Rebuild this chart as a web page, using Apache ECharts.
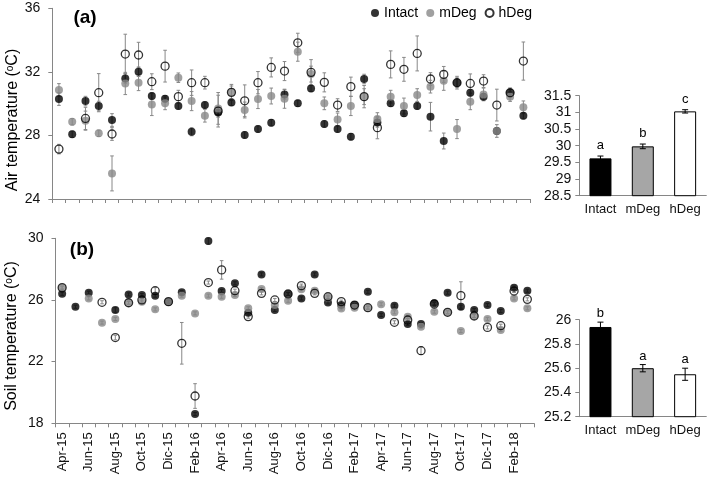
<!DOCTYPE html>
<html><head><meta charset="utf-8">
<script src="https://cdn.jsdelivr.net/npm/echarts@6/dist/echarts.min.js"></script>
<style>html,body{margin:0;padding:0;background:#fff}#c{width:709px;height:478px}</style>
</head><body><div id="c"></div>
<script>
const months = ['Apr-15','May-15','Jun-15','Jul-15','Aug-15','Sep-15','Oct-15','Nov-15','Dic-15','Jan-16','Feb-16','Mar-16','Apr-16','May-16','Jun-16','Jul-16','Aug-16','Sep-16','Oct-16','Nov-16','Dic-16','Jan-17','Feb-17','Mar-17','Apr-17','May-17','Jun-17','Jul-17','Aug-17','Sep-17','Oct-17','Nov-17','Dic-17','Jan-18','Feb-18','Mar-18'];
const groups = ['Intact','mDeg','hDeg'];

const airIntact = [30.29,28.07,30.16,29.85,28.97,31.59,32.01,30.48,30.31,29.85,28.23,29.91,29.45,30.08,28.03,28.40,28.80,30.58,30.02,30.96,28.72,28.40,27.92,31.55,28.82,30.02,29.39,29.85,29.18,27.65,31.32,30.69,30.44,28.28,30.69,29.24];
const airMDeg   = [30.86,28.86,28.93,28.13,25.61,31.27,31.32,29.95,30.02,31.63,30.16,29.24,29.70,30.71,29.60,30.29,30.48,30.31,33.27,31.86,30.02,29.01,29.85,30.44,29.03,30.44,29.85,30.54,31.07,31.44,28.40,30.12,30.58,28.28,30.44,29.77];
const airHDeg   = [27.14,null,29.07,30.69,28.09,33.12,33.06,31.38,32.36,30.44,31.32,31.32,29.53,30.71,30.18,31.32,32.28,32.05,33.83,31.97,31.34,29.91,31.07,30.44,28.49,32.47,32.16,33.16,31.55,31.84,31.32,31.27,31.42,29.91,30.69,32.68];
const airIntactErr = [0.4,0.2,0.3,0.3,0.4,0.3,0.3,0.2,0.2,0.2,0.25,0.2,0.3,0.2,0.2,0.2,0.2,0.3,0.2,0.2,0.2,0.2,0.2,0.3,0.3,0.2,0.2,0.2,0.9,0.5,0.3,0.2,0.2,0.2,0.2,0.2];
const airMDegErr   = [0.4,0.2,0.6,0.2,1.1,0.7,0.5,0.7,0.4,0.3,0.6,0.4,1.0,0.4,0.5,0.6,0.5,0.6,0.6,0.5,0.4,0.4,0.6,0.7,0.4,0.4,0.5,0.4,0.4,0.6,0.6,0.5,0.4,0.4,0.3,0.4];
const airHDegErr   = [0.3,0,0.7,1.2,0.4,1.25,0.8,0.5,1.0,0.4,0.8,0.4,1.0,0.5,1.0,0.7,0.6,0.6,0.6,0.8,0.6,0.4,0.6,0.5,0.7,0.85,0.75,1.1,0.4,0.5,0.4,0.6,0.4,1.0,0.3,1.2];

const soilIntact = [26.40,25.56,26.47,null,25.35,26.36,26.32,26.28,25.89,26.50,18.60,29.82,26.58,27.08,25.17,27.66,25.35,26.39,26.10,27.66,25.84,25.67,25.67,26.53,25.03,25.63,24.44,24.44,25.78,26.47,25.56,25.35,25.67,25.28,26.80,26.60];
const soilMDeg   = [26.80,null,26.10,24.53,24.77,25.82,25.89,25.39,25.89,26.28,25.13,26.28,26.21,26.32,25.46,26.71,25.67,25.95,26.69,26.60,26.15,25.45,25.50,25.50,25.72,25.20,24.91,24.27,25.24,25.20,23.98,24.96,24.77,24.05,26.10,25.46];
const soilHDeg   = [26.80,null,null,25.85,23.56,25.82,26.00,26.60,25.89,23.19,19.77,27.13,27.95,26.60,24.92,26.43,26.00,26.39,26.93,26.43,26.21,25.89,25.67,25.50,null,24.55,24.70,22.71,25.74,25.20,26.28,24.96,24.22,24.33,26.58,26.04];
const soilIntactErr = [0.1,0.1,0.1,0,0.15,0.1,0.1,0.1,0.1,0.1,0.1,0.2,0.1,0.1,0.1,0.1,0.1,0.1,0.1,0.1,0.1,0.1,0.1,0.1,0.1,0.1,0.1,0.1,0.1,0.1,0.1,0.1,0.1,0.1,0.1,0.1];
const soilMDegErr   = [0.1,0,0.1,0.1,0.1,0.1,0.1,0.1,0.1,0.1,0.1,0.1,0.1,0.1,0.1,0.1,0.1,0.1,0.1,0.1,0.1,0.1,0.1,0.1,0.1,0.1,0.1,0.1,0.1,0.1,0.1,0.1,0.1,0.1,0.1,0.1];
const soilHDegErr   = [0.1,0,0,0.1,0.15,0.1,0.15,0.2,0.1,1.35,0.8,0.1,0.6,0.1,0.1,0.1,0.1,0.1,0.1,0.1,0.1,0.1,0.1,0.1,0,0.1,0.1,0.25,0.1,0.1,0.9,0.1,0.1,0.1,0.1,0.1];

const airBar = [29.62, 29.98, 31.03];
const airBarErr = [0.07, 0.07, 0.05];
const airLetters = ['a','b','c'];
const soilBar = [25.94, 25.60, 25.55];
const soilBarErr = [0.04, 0.03, 0.05];
const soilLetters = ['b','a','a'];

const airTicks = [24, 28, 32, 36];
const soilTicks = [18, 22, 26, 30];
const airBarTicks = [28.5, 29, 29.5, 30, 30.5, 31, 31.5];
const soilBarTicks = [25.2, 25.4, 25.6, 25.8, 26];

const FONT = 'Liberation Sans, Arial, sans-serif';
const AXIS = '#868686';
const TXT = '#111';
const GRAY = '#888888';

function pts(arr){ return arr.map((v,i)=>[i, v==null ? '-' : v]); }
function errData(arr, err){ return arr.map((v,i)=>[i, v==null ? NaN : v, err[i]]); }

function errRender(cap, color){
  return function(params, api){
    const x = api.value(0), m = api.value(1), e = api.value(2);
    if (isNaN(m) || !e) return;
    const a = api.coord([x, m + e]), b = api.coord([x, m - e]);
    const st = {stroke: color, lineWidth: 1};
    return {type:'group', children:[
      {type:'line', shape:{x1:a[0],y1:a[1],x2:b[0],y2:b[1]}, style:st},
      {type:'line', shape:{x1:a[0]-cap,y1:a[1],x2:a[0]+cap,y2:a[1]}, style:st},
      {type:'line', shape:{x1:b[0]-cap,y1:b[1],x2:b[0]+cap,y2:b[1]}, style:st}
    ]};
  };
}
function barErrRender(letters, gap){
  return function(params, api){
    const x = api.value(0), m = api.value(1), e = api.value(2);
    const a = api.coord([x, m + e]), b = api.coord([x, m - e]);
    const st = {stroke: '#000', lineWidth: 1};
    return {type:'group', children:[
      {type:'line', shape:{x1:a[0],y1:a[1],x2:b[0],y2:b[1]}, style:st},
      {type:'line', shape:{x1:a[0]-3,y1:a[1],x2:a[0]+3,y2:a[1]}, style:st},
      {type:'line', shape:{x1:b[0]-3,y1:b[1],x2:b[0]+3,y2:b[1]}, style:st},
      {type:'text', x:a[0], y:a[1]-gap, style:{text: letters[params.dataIndex], fill:'#000', font:'13px ' + FONT, textAlign:'center', align:'center', textVerticalAlign:'bottom', verticalAlign:'bottom'}}
    ]};
  };
}

const markerStyles = [
  {color:'#000'},
  {color:GRAY},
  {color:'rgba(0,0,0,0)', borderColor:'#000', borderWidth:1.3}
];

function scatterSeries(gi, arrs, errs){
  const s = [];
  arrs.forEach((arr, k)=>{
    s.push({type:'custom', xAxisIndex:gi, yAxisIndex:gi, data: errData(arr, errs[k]), renderItem: errRender(1.8, GRAY), z:1, silent:true, encode:{x:0,y:1}});
  });
  arrs.forEach((arr, k)=>{
    s.push({type:'scatter', name: groups[k], xAxisIndex:gi, yAxisIndex:gi, data: pts(arr), symbol:'circle', symbolSize:8, itemStyle: markerStyles[k], z:3});
  });
  return s;
}

function catX(gi, showLabels){
  return {type:'category', gridIndex:gi, data:months, boundaryGap:true,
    axisLine:{show:true, lineStyle:{color:AXIS, width:1}},
    axisTick:{show:true, interval:0, length:4, lineStyle:{color:AXIS}},
    axisLabel: showLabels ? {show:true, interval:1, rotate:90, fontSize:13, color:TXT, fontFamily:FONT, margin:9} : {show:false},
    splitLine:{show:false}};
}
function valY(gi, min, max, ticks, margin){
  return {type:'value', gridIndex:gi, min:min, max:max,
    axisLine:{show:true, lineStyle:{color:AXIS}},
    axisTick:{show:true, length:4, lineStyle:{color:AXIS}, customValues:ticks},
    axisLabel:{fontSize:14, color:TXT, fontFamily:FONT, margin:margin, customValues:ticks},
    splitLine:{show:false}};
}
function barX(gi){
  return {type:'category', gridIndex:gi, data:groups,
    axisLine:{show:true, lineStyle:{color:AXIS}}, axisTick:{show:false},
    axisLabel:{interval:0, fontSize:13, color:TXT, fontFamily:FONT, margin:7}};
}
const barColors = ['#000', '#a6a6a6', '#fff'];
function barSeries(gi, vals, errs, letters, gap){
  return [
    {type:'bar', xAxisIndex:gi, yAxisIndex:gi, barWidth:22,
     data: vals.map((v,i)=>({value:v, itemStyle:{color:barColors[i], borderColor:'#000', borderWidth:1}})), z:2},
    {type:'custom', xAxisIndex:gi, yAxisIndex:gi, data: vals.map((v,i)=>[i, v, errs[i]]), renderItem: barErrRender(letters, gap), z:3, encode:{x:0,y:1}}
  ];
}

const chart = echarts.init(document.getElementById('c'), null, {renderer:'canvas'});
const option = {
  animation:false,
  textStyle:{fontFamily:FONT},
  grid:[
    {left:52.3, top:8.3, width:477.7, height:190.7},
    {left:55.5, top:238.3, width:478.5, height:185},
    {left:579.3, top:95.7, width:127, height:100},
    {left:579.3, top:319.7, width:127, height:97}
  ],
  legend:{data:groups, left:366, top:1, itemWidth:8, itemHeight:8, itemGap:8, icon:'circle',
    textStyle:{fontSize:14, color:'#000', fontFamily:FONT}},
  xAxis:[catX(0,false), catX(1,true), barX(2), barX(3)],
  yAxis:[valY(0,24,36,airTicks,12), valY(1,18,30,soilTicks,12), valY(2,28.5,31.5,airBarTicks,8), valY(3,25.2,26,soilBarTicks,8)],
  series:[].concat(
    scatterSeries(0,[airIntact,airMDeg,airHDeg],[airIntactErr,airMDegErr,airHDegErr]),
    scatterSeries(1,[soilIntact,soilMDeg,soilHDeg],[soilIntactErr,soilMDegErr,soilHDegErr]),
    barSeries(2, airBar, airBarErr, airLetters, 4),
    barSeries(3, soilBar, soilBarErr, soilLetters, 2)
  ),
  graphic:[
    {type:'text', x:85, y:18, style:{text:'(a)', font:'bold 19px ' + FONT, fill:'#000', textAlign:'center', align:'center', textVerticalAlign:'middle', verticalAlign:'middle'}},
    {type:'text', x:82, y:250, style:{text:'(b)', font:'bold 19px ' + FONT, fill:'#000', textAlign:'center', align:'center', textVerticalAlign:'middle', verticalAlign:'middle'}},
    {type:'text', x:13, y:120, rotation:Math.PI/2, style:{text:'{n|Air temperature (}{s|o}{n|C)}', fill:'#000', textAlign:'center', align:'center', textVerticalAlign:'middle', verticalAlign:'middle',
      rich:{n:{fontSize:16, fontFamily:FONT, fill:'#000', color:'#000'}, s:{fontSize:10, fontFamily:FONT, fill:'#000', color:'#000', verticalAlign:'top'}}}},
    {type:'text', x:12, y:336, rotation:Math.PI/2, style:{text:'{n|Soil temperature (}{s|o}{n|C)}', fill:'#000', textAlign:'center', align:'center', textVerticalAlign:'middle', verticalAlign:'middle',
      rich:{n:{fontSize:16, fontFamily:FONT, fill:'#000', color:'#000'}, s:{fontSize:10, fontFamily:FONT, fill:'#000', color:'#000', verticalAlign:'top'}}}}
  ]
};
chart.setOption(option);
</script>
</body></html>
